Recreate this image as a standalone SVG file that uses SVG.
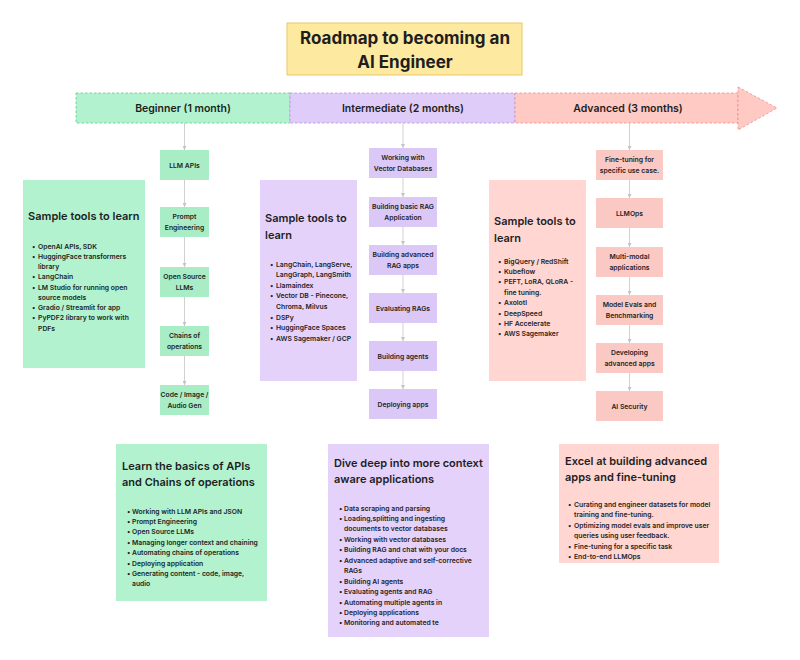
<svg xmlns="http://www.w3.org/2000/svg" width="800" height="660" viewBox="0 0 800 660">
<defs>
<style>
text{font-family:Inter,"Liberation Sans",sans-serif;fill:#1e1e1e;font-weight:600}
.title{font-size:17px;text-anchor:middle;font-weight:700}
.band{font-size:10.5px;text-anchor:middle;font-weight:600}
.n{font-size:6.8px;text-anchor:middle}
.h{font-size:11px}
.b{font-size:6.8px}
.g{fill:#b2f2cf}
.gn{fill:#a9edc6}
.p{fill:#e4d2fb}
.pn{fill:#dcc8f6}
.r{fill:#ffd6d2}
.rn{fill:#fbc9c3}
.conn line{stroke:#c4c4c4;stroke-width:0.8;marker-end:url(#ah)}
</style>
<marker id="ah" markerWidth="4" markerHeight="4" refX="4" refY="2" orient="auto" markerUnits="userSpaceOnUse">
<path d="M0,0 L4,2 L0,4 z" fill="#c4c4c4"/>
</marker>
</defs>
<rect width="800" height="660" fill="#ffffff"/>

<g id="title">
<rect x="287" y="23" width="235" height="52" fill="#fde9a0" stroke="#e9c963" stroke-width="1"/>
<text class="title" x="405" y="44">Roadmap to becoming an</text>
<text class="title" x="405" y="68">AI Engineer</text>
</g>

<g id="timeline">
<rect x="76" y="93" width="214" height="30" fill="#b2f2cf" stroke="#62c990" stroke-width="0.8" stroke-dasharray="2.5,2"/>
<rect x="290" y="93" width="225" height="30" fill="#e0ccf8" stroke="#b690e0" stroke-width="0.8" stroke-dasharray="2.5,2"/>
<rect x="515" y="93" width="223" height="30" fill="#ffc9c4" stroke="#e8918b" stroke-width="0.8" stroke-dasharray="2.5,2"/>
<polygon points="738,87 777,108 738,130" fill="#ffc9c4" stroke="#e8918b" stroke-width="0.8" stroke-dasharray="2.5,2"/>
<text class="band" x="183" y="111.5">Beginner (1 month)</text>
<text class="band" x="403" y="111.5">Intermediate (2 months)</text>
<text class="band" x="628" y="111.5">Advanced (3 months)</text>
</g>

<g class="conn" id="connectors">
<line x1="184.5" y1="123" x2="184.5" y2="150"/>
<line x1="184.5" y1="180" x2="184.5" y2="207"/>
<line x1="184.5" y1="237" x2="184.5" y2="267"/>
<line x1="184.5" y1="297" x2="184.5" y2="326"/>
<line x1="184.5" y1="356" x2="184.5" y2="385"/>
<line x1="403" y1="123" x2="403" y2="148"/>
<line x1="403" y1="178" x2="403" y2="197"/>
<line x1="403" y1="227" x2="403" y2="245"/>
<line x1="403" y1="275" x2="403" y2="293"/>
<line x1="403" y1="323" x2="403" y2="341"/>
<line x1="403" y1="371" x2="403" y2="389"/>
<line x1="629.5" y1="123" x2="629.5" y2="150"/>
<line x1="629.5" y1="180" x2="629.5" y2="198"/>
<line x1="629.5" y1="228" x2="629.5" y2="247"/>
<line x1="629.5" y1="277" x2="629.5" y2="295"/>
<line x1="629.5" y1="325" x2="629.5" y2="343"/>
<line x1="629.5" y1="373" x2="629.5" y2="391"/>
</g>

<g id="beg-tools">
<rect class="g" x="23" y="180" width="122" height="188"/>
<text class="h" x="28" y="220">Sample tools to learn</text>
<text class="b" x="32" y="248.5">•</text><text class="b" x="38" y="248.5">OpenAI APIs, SDK</text>
<text class="b" x="32" y="258.7">•</text><text class="b" x="38" y="258.7">HuggingFace transformers</text>
<text class="b" x="38" y="269">library</text>
<text class="b" x="32" y="279.2">•</text><text class="b" x="38" y="279.2">LangChain</text>
<text class="b" x="32" y="289.5">•</text><text class="b" x="38" y="289.5">LM Studio for running open</text>
<text class="b" x="38" y="299.7">source models</text>
<text class="b" x="32" y="310">•</text><text class="b" x="38" y="310">Gradio / Streamlit for app</text>
<text class="b" x="32" y="320.2">•</text><text class="b" x="38" y="320.2">PyPDF2 library to work with</text>
<text class="b" x="38" y="330.5">PDFs</text>
</g>

<g id="n-llmapis"><rect class="gn" x="160" y="150" width="49" height="30"/><text class="n" x="184.5" y="167.5">LLM APIs</text></g>
<g id="n-prompt"><rect class="gn" x="160" y="207" width="49" height="30"/><text class="n" x="184.5" y="219">Prompt</text><text class="n" x="184.5" y="230">Engineering</text></g>
<g id="n-oss"><rect class="gn" x="160" y="267" width="49" height="30"/><text class="n" x="184.5" y="279">Open Source</text><text class="n" x="184.5" y="290">LLMs</text></g>
<g id="n-chains"><rect class="gn" x="160" y="326" width="49" height="30"/><text class="n" x="184.5" y="338">Chains of</text><text class="n" x="184.5" y="349">operations</text></g>
<g id="n-code"><rect class="gn" x="160" y="385" width="49" height="30"/><text class="n" x="184.5" y="397">Code / Image /</text><text class="n" x="184.5" y="408">Audio Gen</text></g>

<g id="int-tools">
<rect class="p" x="260" y="180" width="97" height="201"/>
<text class="h" x="265" y="222">Sample tools to</text>
<text class="h" x="265" y="239">learn</text>
<text class="b" x="270" y="266.5">•</text><text class="b" x="276" y="266.5">LangChain, LangServe,</text>
<text class="b" x="276" y="277.1">LangGraph, LangSmith</text>
<text class="b" x="270" y="287.7">•</text><text class="b" x="276" y="287.7">Llamaindex</text>
<text class="b" x="270" y="298.3">•</text><text class="b" x="276" y="298.3">Vector DB - Pinecone,</text>
<text class="b" x="276" y="308.9">Chroma, Milvus</text>
<text class="b" x="270" y="319.5">•</text><text class="b" x="276" y="319.5">DSPy</text>
<text class="b" x="270" y="330.1">•</text><text class="b" x="276" y="330.1">HuggingFace Spaces</text>
<text class="b" x="270" y="340.7">•</text><text class="b" x="276" y="340.7">AWS Sagemaker / GCP</text>
</g>

<g id="n-vector"><rect class="pn" x="369" y="148" width="68" height="30"/><text class="n" x="403" y="160">Working with</text><text class="n" x="403" y="171">Vector Databases</text></g>
<g id="n-basicrag"><rect class="pn" x="369" y="197" width="68" height="30"/><text class="n" x="403" y="209">Building basic RAG</text><text class="n" x="403" y="220">Application</text></g>
<g id="n-advrag"><rect class="pn" x="369" y="245" width="68" height="30"/><text class="n" x="403" y="257">Building advanced</text><text class="n" x="403" y="268">RAG apps</text></g>
<g id="n-evalrag"><rect class="pn" x="369" y="293" width="68" height="30"/><text class="n" x="403" y="310.5">Evaluating RAGs</text></g>
<g id="n-agents"><rect class="pn" x="369" y="341" width="68" height="30"/><text class="n" x="403" y="358.5">Building agents</text></g>
<g id="n-deploy"><rect class="pn" x="369" y="389" width="68" height="30"/><text class="n" x="403" y="406.5">Deploying apps</text></g>

<g id="adv-tools">
<rect class="r" x="489" y="180" width="97" height="201"/>
<text class="h" x="494" y="225">Sample tools to</text>
<text class="h" x="494" y="242">learn</text>
<text class="b" x="498" y="263.5">•</text><text class="b" x="504" y="263.5">BigQuery / RedShift</text>
<text class="b" x="498" y="273.9">•</text><text class="b" x="504" y="273.9">Kubeflow</text>
<text class="b" x="498" y="284.3">•</text><text class="b" x="504" y="284.3">PEFT, LoRA, QLoRA -</text>
<text class="b" x="504" y="294.7">fine tuning.</text>
<text class="b" x="498" y="305.1">•</text><text class="b" x="504" y="305.1">Axolotl</text>
<text class="b" x="498" y="315.5">•</text><text class="b" x="504" y="315.5">DeepSpeed</text>
<text class="b" x="498" y="325.9">•</text><text class="b" x="504" y="325.9">HF Accelerate</text>
<text class="b" x="498" y="336.3">•</text><text class="b" x="504" y="336.3">AWS Sagemaker</text>
</g>

<g id="n-finetune"><rect class="rn" x="596" y="150" width="67" height="30"/><text class="n" x="629.5" y="162">Fine-tuning for</text><text class="n" x="629.5" y="173">specific use case.</text></g>
<g id="n-llmops"><rect class="rn" x="596" y="198" width="67" height="30"/><text class="n" x="629.5" y="215.5">LLMOps</text></g>
<g id="n-multimodal"><rect class="rn" x="596" y="247" width="67" height="30"/><text class="n" x="629.5" y="259">Multi-modal</text><text class="n" x="629.5" y="270">applications</text></g>
<g id="n-evals"><rect class="rn" x="596" y="295" width="67" height="30"/><text class="n" x="629.5" y="307">Model Evals and</text><text class="n" x="629.5" y="318">Benchmarking</text></g>
<g id="n-devadv"><rect class="rn" x="596" y="343" width="67" height="30"/><text class="n" x="629.5" y="355">Developing</text><text class="n" x="629.5" y="366">advanced apps</text></g>
<g id="n-security"><rect class="rn" x="596" y="391" width="67" height="30"/><text class="n" x="629.5" y="408.5">AI Security</text></g>

<g id="beg-summary">
<rect class="g" x="116" y="444" width="151" height="157"/>
<text class="h" x="122" y="470">Learn the basics of APIs</text>
<text class="h" x="122" y="486">and Chains of operations</text>
<text class="b" x="127" y="513.5">•</text><text class="b" x="132" y="513.5">Working with LLM APIs and JSON</text>
<text class="b" x="127" y="523.9">•</text><text class="b" x="132" y="523.9">Prompt Engineering</text>
<text class="b" x="127" y="534.3">•</text><text class="b" x="132" y="534.3">Open Source LLMs</text>
<text class="b" x="127" y="544.7">•</text><text class="b" x="132" y="544.7">Managing longer context and chaining</text>
<text class="b" x="127" y="555.1">•</text><text class="b" x="132" y="555.1">Automating chains of operations</text>
<text class="b" x="127" y="565.5">•</text><text class="b" x="132" y="565.5">Deploying application</text>
<text class="b" x="127" y="575.9">•</text><text class="b" x="132" y="575.9">Generating content - code, image,</text>
<text class="b" x="132" y="586.3">audio</text>
</g>

<g id="int-summary">
<rect class="p" x="328" y="444" width="161" height="193"/>
<text class="h" x="334" y="467">Dive deep into more context</text>
<text class="h" x="334" y="483">aware applications</text>
<text class="b" x="339" y="510.5">•</text><text class="b" x="344" y="510.5">Data scraping and parsing</text>
<text class="b" x="339" y="520.9">•</text><text class="b" x="344" y="520.9">Loading,splitting and ingesting</text>
<text class="b" x="344" y="531.4">documents to vector databases</text>
<text class="b" x="339" y="541.8">•</text><text class="b" x="344" y="541.8">Working with vector databases</text>
<text class="b" x="339" y="552.3">•</text><text class="b" x="344" y="552.3">Building RAG and chat with your docs</text>
<text class="b" x="339" y="562.7">•</text><text class="b" x="344" y="562.7">Advanced adaptive and self-corrective</text>
<text class="b" x="344" y="573.2">RAGs</text>
<text class="b" x="339" y="583.6">•</text><text class="b" x="344" y="583.6">Building AI agents</text>
<text class="b" x="339" y="594.1">•</text><text class="b" x="344" y="594.1">Evaluating agents and RAG</text>
<text class="b" x="339" y="604.5">•</text><text class="b" x="344" y="604.5">Automating multiple agents in</text>
<text class="b" x="339" y="615">•</text><text class="b" x="344" y="615">Deploying applications</text>
<text class="b" x="339" y="625.4">•</text><text class="b" x="344" y="625.4">Monitoring and automated te</text>
</g>

<g id="adv-summary">
<rect class="r" x="559" y="444" width="160" height="119"/>
<text class="h" x="565" y="465">Excel at building advanced</text>
<text class="h" x="565" y="481">apps and fine-tuning</text>
<text class="b" x="568" y="506.5">•</text><text class="b" x="574" y="506.5">Curating and engineer datasets for model</text>
<text class="b" x="574" y="517">training and fine-tuning.</text>
<text class="b" x="568" y="527.5">•</text><text class="b" x="574" y="527.5">Optimizing model evals and improve user</text>
<text class="b" x="574" y="538">queries using user feedback.</text>
<text class="b" x="568" y="548.5">•</text><text class="b" x="574" y="548.5">Fine-tuning for a specific task</text>
<text class="b" x="568" y="559">•</text><text class="b" x="574" y="559">End-to-end LLMOps</text>
</g>
</svg>
